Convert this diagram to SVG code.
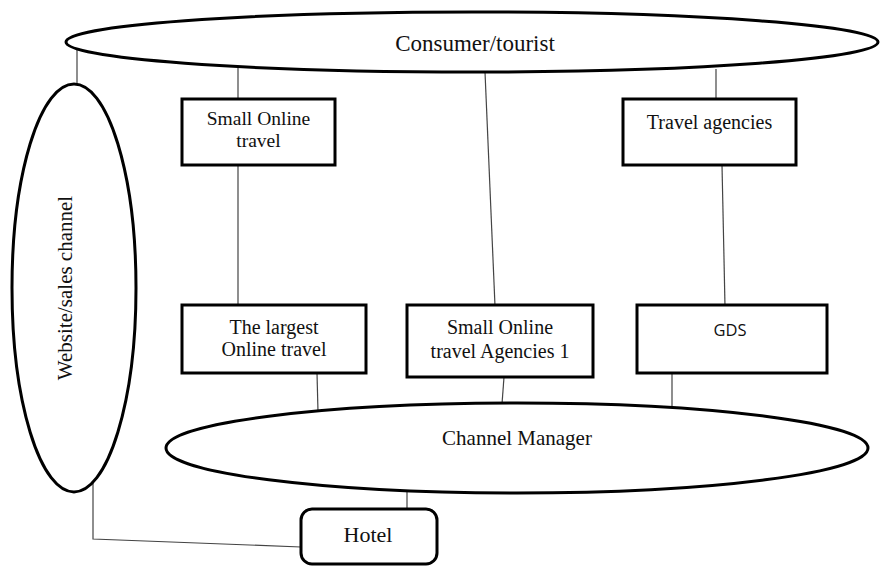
<svg xmlns="http://www.w3.org/2000/svg" width="880" height="566" viewBox="0 0 880 566">
<style>
.n{fill:#fff;stroke:#000;stroke-width:3}
.c line,.c polyline{stroke:#444;stroke-width:1.2;fill:none}
.t{font-family:"Liberation Serif","Times New Roman",serif;font-size:20px;fill:#111;text-anchor:middle}
.tl{font-size:22px}
.s{font-family:"Open Sans","Liberation Sans",sans-serif;font-size:16.5px;fill:#111;text-anchor:middle}
</style>
<rect width="880" height="566" fill="#fff"/>
<g id="connectors" class="c">
<line x1="77" y1="48" x2="77" y2="86"/>
<line x1="238" y1="66" x2="238" y2="100"/>
<line x1="238" y1="165" x2="238" y2="306"/>
<line x1="485" y1="72" x2="495" y2="306"/>
<line x1="716" y1="69" x2="716" y2="100"/>
<line x1="722" y1="165" x2="725" y2="306"/>
<line x1="317" y1="373" x2="318" y2="412"/>
<line x1="504" y1="377" x2="502" y2="404"/>
<line x1="672" y1="373" x2="672" y2="408"/>
<line x1="407" y1="490" x2="407" y2="510"/>
<polyline points="93,482 93,539 301,547"/>
</g>
<g id="consumer">
<ellipse class="n" cx="472" cy="42" rx="406" ry="30"/>
<text class="t tl" x="475" y="51" style="font-size:23px">Consumer/tourist</text>
</g>
<g id="website">
<ellipse class="n" cx="74" cy="288" rx="62" ry="204"/>
<text class="t" transform="translate(72,288) rotate(-90)" style="font-size:21px">Website/sales channel</text>
</g>
<g id="small-online-travel">
<rect class="n" x="182" y="99" width="153" height="66"/>
<text class="t" x="258.5" y="125" style="font-size:19.5px">Small Online</text>
<text class="t" x="258.5" y="147" style="font-size:19.5px">travel</text>
</g>
<g id="travel-agencies">
<rect class="n" x="623" y="99" width="173" height="66"/>
<text class="t" x="709.5" y="129">Travel agencies</text>
</g>
<g id="largest-online-travel">
<rect class="n" x="182" y="305" width="184" height="68"/>
<text class="t" x="274" y="334">The largest</text>
<text class="t" x="274" y="356">Online travel</text>
</g>
<g id="small-ota-1">
<rect class="n" x="407" y="305" width="186" height="72"/>
<text class="t" x="500" y="334">Small Online</text>
<text class="t" x="500" y="358">travel Agencies 1</text>
</g>
<g id="gds">
<rect class="n" x="637" y="305" width="190" height="68"/>
<text class="s" x="730" y="336">GDS</text>
</g>
<g id="channel-manager">
<ellipse class="n" cx="517" cy="448" rx="351" ry="45"/>
<text class="t tl" x="517" y="445" style="font-size:21px">Channel Manager</text>
</g>
<g id="hotel">
<rect class="n" x="301" y="509" width="136" height="55" rx="11" ry="11"/>
<text class="t tl" x="368" y="542">Hotel</text>
</g>
</svg>
